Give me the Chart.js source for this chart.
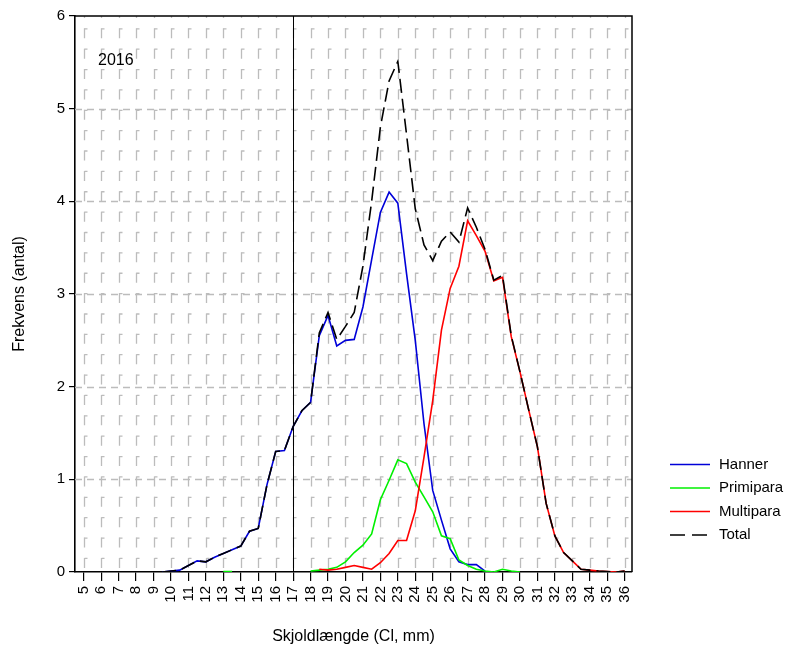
<!DOCTYPE html>
<html lang="da">
<head>
    <meta charset="UTF-8">
    <title>Skjoldlængde 2016</title>
    <script src="https://cdn.jsdelivr.net/npm/chart.js@4.4.1/dist/chart.umd.min.js"></script>
    <style>
        html, body { margin: 0; padding: 0; background: #fff; }
    </style>
</head>
<body>
    <canvas id="freq_chart" width="793" height="653"></canvas>
    <script>
        // length classes (mm), half-mm steps
        const lengths = [9.5, 10, 10.5, 11, 11.5, 12, 12.5, 13, 13.5, 14, 14.5, 15, 15.5, 16, 16.5, 17, 17.5, 18,
            18.5, 19, 19.5, 20, 20.5, 21, 21.5, 22, 22.5, 23, 23.5, 24, 24.5, 25, 25.5, 26, 26.5, 27, 27.5, 28,
            28.5, 29, 29.5, 30, 30.5, 31, 31.5, 32, 32.5, 33, 33.5, 34, 34.5, 35, 35.5, 36];

        const hanner = [0.0, 0.01, 0.02, 0.07, 0.12, 0.11, 0.16, 0.20, 0.24, 0.28, 0.44, 0.47, 0.94, 1.30, 1.31, 1.57, 1.74, 1.83,
            2.55, 2.77, 2.44, 2.50, 2.51, 2.86, 3.37, 3.88, 4.10, 3.98, 3.22, 2.50, 1.60, 0.88, 0.56, 0.25, 0.11, 0.08, 0.08, 0.01,
            null, null, null, null, null, null, null, null, null, null, null, null, null, null, null, null];

        const primipara = [null, null, null, null, null, null, null, 0.005, 0.005, null, null, null, null, null, null, null, null, 0.01,
            0.02, 0.03, 0.05, 0.11, 0.21, 0.29, 0.41, 0.78, 0.99, 1.21, 1.17, 0.97, 0.81, 0.65, 0.39, 0.36, 0.13, 0.07, 0.03, 0.01,
            0.0, 0.03, 0.01, 0.0, null, null, null, null, null, null, null, null, null, null, null, null];

        const multipara = [null, null, null, null, null, null, null, null, null, null, null, null, null, null, null, null, null, null,
            0.03, 0.02, 0.03, 0.05, 0.07, 0.05, 0.03, 0.10, 0.20, 0.34, 0.34, 0.66, 1.24, 1.85, 2.61, 3.06, 3.30, 3.79, 3.63, 3.46,
            3.14, 3.18, 2.54, 2.16, 1.75, 1.35, 0.74, 0.39, 0.21, 0.12, 0.03, 0.02, 0.01, 0.005, 0.0, 0.01];

        const total = [0.0, 0.01, 0.02, 0.07, 0.12, 0.11, 0.16, 0.20, 0.24, 0.28, 0.44, 0.47, 0.94, 1.30, 1.31, 1.57, 1.74, 1.83,
            2.58, 2.80, 2.51, 2.65, 2.80, 3.30, 4.00, 4.80, 5.30, 5.51, 4.72, 3.92, 3.53, 3.36, 3.57, 3.67, 3.56, 3.93, 3.72, 3.48,
            3.15, 3.20, 2.55, 2.16, 1.75, 1.35, 0.74, 0.39, 0.21, 0.12, 0.03, 0.02, 0.01, 0.005, 0.0, 0.01];

        const xTicks = [5, 6, 7, 8, 9, 10, 11, 12, 13, 14, 15, 16, 17, 18, 19, 20, 21, 22, 23, 24, 25, 26, 27, 28, 29, 30,
            31, 32, 33, 34, 35, 36];
        const yTicks = [0, 1, 2, 3, 4, 5, 6];

        const seriesNames = ["Hanner", "Primipara", "Multipara", "Total"];
        const seriesColors = ["#0000d8", "#00f000", "#ff0000", "#000000"];

        const toPoints = vals => lengths.map((x, i) => ({ x: x, y: vals[i] }));

        Chart.defaults.font.family = "'Liberation Sans', Arial, sans-serif";
        Chart.defaults.color = "#000";

        // dashed grey grid, the line at 17 mm, the frame
        const gridPlugin = {
            id: "sigmaGrid",
            beforeDatasetsDraw(chart) {
                const ctx = chart.ctx;
                const area = chart.chartArea;
                const xs = chart.scales.x, ys = chart.scales.y;
                ctx.save();
                ctx.strokeStyle = "#bcbcbc";
                ctx.lineWidth = 1.3;
                // vertical
                const period = 20.37;
                xTicks.forEach(v => {
                    const px = Math.round(xs.getPixelForValue(v)) + 0.5;
                    ctx.setLineDash([10, period - 10]);
                    ctx.lineDashOffset = -12.3;
                    ctx.beginPath();
                    ctx.moveTo(px, area.top);
                    ctx.lineTo(px, area.bottom);
                    ctx.stroke();
                    ctx.setLineDash([]);
                    ctx.beginPath();
                    for (let y = area.top + 12.3; y < area.bottom - 2; y += period) {
                        ctx.moveTo(px, y + 0.5);
                        ctx.lineTo(px + 3, y + 0.5);
                    }
                    ctx.stroke();
                });
                // horizontal
                ctx.setLineDash([7, 5]);
                ctx.lineDashOffset = 0;
                yTicks.slice(1, -1).forEach(v => {
                    const py = Math.round(ys.getPixelForValue(v)) + 0.5;
                    ctx.beginPath();
                    ctx.moveTo(area.left, py);
                    ctx.lineTo(area.right, py);
                    ctx.stroke();
                });
                ctx.setLineDash([]);
                // reference line at 17 mm
                const p17 = Math.round(xs.getPixelForValue(17)) + 0.5;
                ctx.strokeStyle = "#000";
                ctx.lineWidth = 1;
                ctx.beginPath();
                ctx.moveTo(p17, area.top);
                ctx.lineTo(p17, area.bottom);
                ctx.stroke();
                ctx.restore();
            },
            afterDatasetsDraw(chart) {
                const ctx = chart.ctx;
                const area = chart.chartArea;
                ctx.save();
                ctx.strokeStyle = "#000";
                ctx.lineWidth = 1.5;
                ctx.beginPath();
                ctx.moveTo(area.left, area.top);
                ctx.lineTo(area.right, area.top);
                ctx.lineTo(area.right, area.bottom);
                ctx.stroke();
                ctx.font = "16px 'Liberation Sans', Arial, sans-serif";
                ctx.fillStyle = "#000";
                ctx.textBaseline = "middle";
                ctx.fillText("2016", 98, 61);
                ctx.restore();
            }
        };

        const legendPlugin = {
            id: "sideLegend",
            afterDraw(chart) {
                const ctx = chart.ctx;
                ctx.save();
                ctx.font = "15px 'Liberation Sans', Arial, sans-serif";
                ctx.textBaseline = "middle";
                ctx.fillStyle = "#000";
                seriesNames.forEach((name, i) => {
                    const y = 464.5 + i * 23.5;
                    ctx.strokeStyle = seriesColors[i];
                    ctx.lineWidth = 1.5;
                    ctx.setLineDash(i === 3 ? [15, 7] : []);
                    ctx.beginPath();
                    ctx.moveTo(670, y);
                    ctx.lineTo(710, y);
                    ctx.stroke();
                    ctx.fillText(name, 719, y);
                });
                ctx.restore();
            }
        };

        const lineSet = (i, vals, order) => ({
            label: seriesNames[i],
            data: toPoints(vals),
            borderColor: seriesColors[i],
            borderWidth: 1.6,
            borderDash: i === 3 ? [14, 6] : [],
            pointRadius: 0,
            tension: 0,
            spanGaps: false,
            fill: false,
            order: order
        });

        new Chart("freq_chart", {
            type: "line",
            data: {
                datasets: [
                    lineSet(0, hanner, 3),
                    lineSet(1, primipara, 2),
                    lineSet(2, multipara, 1),
                    lineSet(3, total, 0)
                ]
            },
            options: {
                responsive: false,
                animation: false,
                devicePixelRatio: 1,
                layout: { padding: { left: 0, right: 161, top: 16, bottom: 0 } },
                plugins: {
                    legend: { display: false },
                    tooltip: { enabled: false }
                },
                scales: {
                    x: {
                        type: "linear",
                        min: 4.5,
                        max: 36.42,
                        afterBuildTicks: s => { s.ticks = xTicks.map(v => ({ value: v })); },
                        afterFit: s => { s.height = 81; },
                        ticks: {
                            autoSkip: false,
                            minRotation: 90,
                            maxRotation: 90,
                            padding: 5,
                            font: { size: 15 },
                            callback: v => String(v)
                        },
                        grid: { drawOnChartArea: false, drawTicks: true, tickLength: 9, color: "#000", lineWidth: 1.2 },
                        border: { display: true, color: "#000", width: 1.6 },
                        title: {
                            display: true,
                            text: "Skjoldlængde (Cl, mm)",
                            font: { size: 16 },
                            padding: { top: 0, bottom: 7 }
                        }
                    },
                    y: {
                        min: 0,
                        max: 6,
                        afterBuildTicks: s => { s.ticks = yTicks.map(v => ({ value: v })); },
                        afterFit: s => { s.width = 75; },
                        ticks: {
                            padding: 4,
                            font: { size: 15 },
                            callback: v => String(v)
                        },
                        grid: { drawOnChartArea: false, drawTicks: true, tickLength: 6, color: "#000", lineWidth: 1.2 },
                        border: { display: true, color: "#000", width: 1.6 },
                        title: {
                            display: true,
                            text: "Frekvens (antal)",
                            font: { size: 16 },
                            padding: { top: 10, bottom: 0 }
                        }
                    }
                }
            },
            plugins: [gridPlugin, legendPlugin]
        });
    </script>
</body>
</html>
